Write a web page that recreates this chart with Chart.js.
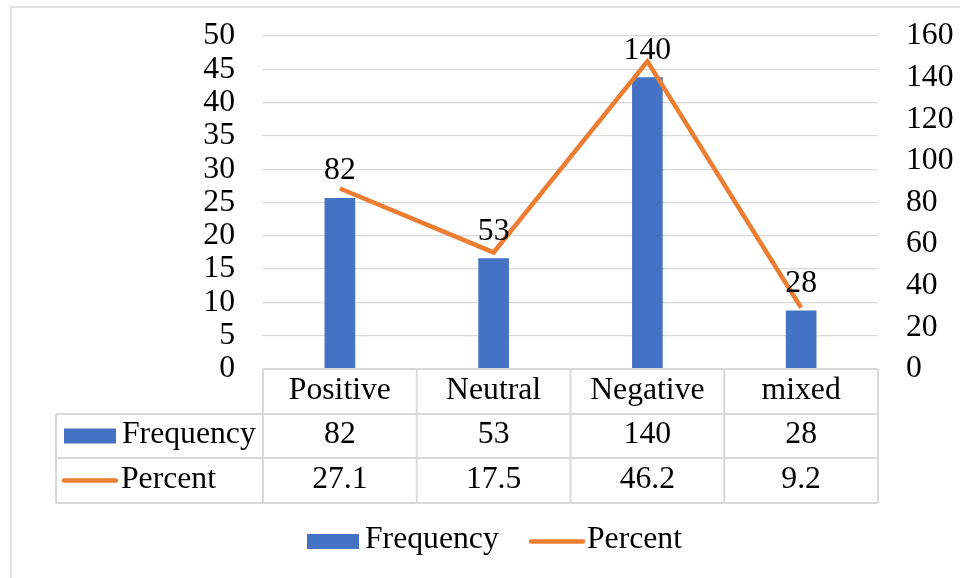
<!DOCTYPE html>
<html lang="en">
  <head>
    <meta charset="UTF-8" />
    <title>Chart</title>
    <script src="https://cdn.jsdelivr.net/npm/chart.js"></script>
    <style>
      body {
        margin: 0;
        background: #fff;
      }
      .chart-box {
        position: relative;
        width: 960px;
        height: 578px;
      }
    </style>
  </head>
  <body>
    <div class="chart-box">
      <canvas id="myChart"></canvas>
    </div>
    <script>
      const categories = ["Positive", "Neutral", "Negative", "mixed"];
      const frequency = [82, 53, 140, 28];
      const percent = [27.1, 17.5, 46.2, 9.2];
      const percentAxis = { min: 0, max: 50, step: 5 };
      const frequencyAxis = { min: 0, max: 160, step: 20 };

      const FONT = "31.7px 'Liberation Serif', 'Times New Roman', serif";
      const BLUE = "#4472C4";
      const ORANGE = "#ED7D31";
      const GRID = "#d9d9d9";

      Chart.defaults.font.family = "'Liberation Serif', 'Times New Roman', serif";
      Chart.defaults.font.size = 31.7;
      Chart.defaults.color = "#000";

      // outer frame (left + top edges visible)
      const framePlugin = {
        id: "frame",
        beforeDraw(chart) {
          const c = chart.ctx;
          c.save();
          c.strokeStyle = GRID;
          c.lineWidth = 1.5;
          c.beginPath();
          c.moveTo(11, 578);
          c.lineTo(11, 7);
          c.lineTo(960, 7);
          c.stroke();
          c.restore();
        },
      };

      // value labels above the bars
      const barLabels = {
        id: "barLabels",
        afterDatasetsDraw(chart) {
          const c = chart.ctx;
          const meta = chart.getDatasetMeta(0);
          c.save();
          c.font = FONT;
          c.fillStyle = "#000";
          c.textAlign = "center";
          c.textBaseline = "alphabetic";
          meta.data.forEach(function (bar, i) {
            c.fillText(String(frequency[i]), bar.x, bar.y - 19);
          });
          c.restore();
        },
      };

      const drawKey = function (c, type, x, y) {
        if (type === "bar") {
          c.fillStyle = BLUE;
          c.fillRect(x, y - 7.5, 52, 15);
        } else {
          c.strokeStyle = ORANGE;
          c.lineWidth = 4.5;
          c.lineCap = "round";
          c.beginPath();
          c.moveTo(x + 2, y);
          c.lineTo(x + 54, y);
          c.stroke();
        }
      };

      // data table under the plot + bottom legend
      const dataTable = {
        id: "dataTable",
        afterDraw(chart) {
          const c = chart.ctx;
          const area = chart.chartArea;
          const xs = chart.scales.x;
          const colW = (area.right - area.left) / categories.length;
          const rows = [area.bottom, area.bottom + 45, area.bottom + 89, area.bottom + 134];
          const tableLeft = 56;

          c.save();
          c.strokeStyle = GRID;
          c.lineWidth = 2;
          c.beginPath();
          c.moveTo(area.left, rows[0]);
          c.lineTo(area.right, rows[0]);
          for (let r = 1; r < rows.length; r++) {
            c.moveTo(tableLeft, rows[r]);
            c.lineTo(area.right, rows[r]);
          }
          for (let i = 0; i <= categories.length; i++) {
            const x = area.left + colW * i;
            c.moveTo(x, rows[0]);
            c.lineTo(x, rows[3]);
          }
          c.moveTo(tableLeft, rows[1]);
          c.lineTo(tableLeft, rows[3]);
          c.stroke();

          c.font = FONT;
          c.fillStyle = "#000";
          c.textBaseline = "middle";
          c.textAlign = "center";
          categories.forEach(function (cat, i) {
            const cx = xs.getPixelForValue(i);
            c.fillText(cat, cx, (rows[0] + rows[1]) / 2 - 1);
            c.fillText(String(frequency[i]), cx, (rows[1] + rows[2]) / 2 - 1);
            c.fillText(percent[i].toFixed(1), cx, (rows[2] + rows[3]) / 2 - 1);
          });

          // series keys in the table
          const y1 = (rows[1] + rows[2]) / 2;
          const y2 = (rows[2] + rows[3]) / 2;
          drawKey(c, "bar", 64, y1);
          drawKey(c, "line", 62, y2);
          c.fillStyle = "#000";
          c.textAlign = "left";
          c.fillText("Frequency", 122, y1 - 1);
          c.fillText("Percent", 121, y2 - 1);

          // legend at the bottom
          drawKey(c, "bar", 307, 541.5);
          drawKey(c, "line", 529, 541.5);
          c.fillStyle = "#000";
          c.fillText("Frequency", 365, 540);
          c.fillText("Percent", 587, 540);
          c.restore();
        },
      };

      const ctx = document.getElementById("myChart");
      const myChart = new Chart(ctx, {
        type: "bar",
        data: {
          labels: categories,
          datasets: [
            {
              type: "bar",
              label: "Frequency",
              data: frequency,
              yAxisID: "y1",
              backgroundColor: BLUE,
              barThickness: 30,
              order: 2,
            },
            {
              type: "line",
              label: "Percent",
              data: percent,
              yAxisID: "y",
              borderColor: ORANGE,
              backgroundColor: ORANGE,
              borderWidth: 4.5,
              pointRadius: 0,
              tension: 0,
              order: 1,
            },
          ],
        },
        options: {
          responsive: true,
          maintainAspectRatio: false,
          animation: false,
          layout: {
            padding: { top: 36, bottom: 209, left: 0, right: 0 },
          },
          plugins: {
            legend: { display: false },
            tooltip: { enabled: false },
          },
          scales: {
            x: { display: false },
            y: {
              position: "left",
              min: percentAxis.min,
              max: percentAxis.max,
              ticks: { stepSize: percentAxis.step, autoSkip: false, padding: 28 },
              grid: { color: GRID, lineWidth: 1.3, drawTicks: false },
              border: { display: false },
              afterFit: function (s) {
                s.width = 263;
                s.paddingTop = 0;
                s.paddingBottom = 0;
              },
            },
            y1: {
              position: "right",
              min: frequencyAxis.min,
              max: frequencyAxis.max,
              ticks: { stepSize: frequencyAxis.step, autoSkip: false, padding: 28 },
              grid: { display: false, drawTicks: false },
              border: { display: false },
              afterFit: function (s) {
                s.width = 82;
                s.paddingTop = 0;
                s.paddingBottom = 0;
              },
            },
          },
        },
        plugins: [framePlugin, barLabels, dataTable],
      });
    </script>
  </body>
</html>
